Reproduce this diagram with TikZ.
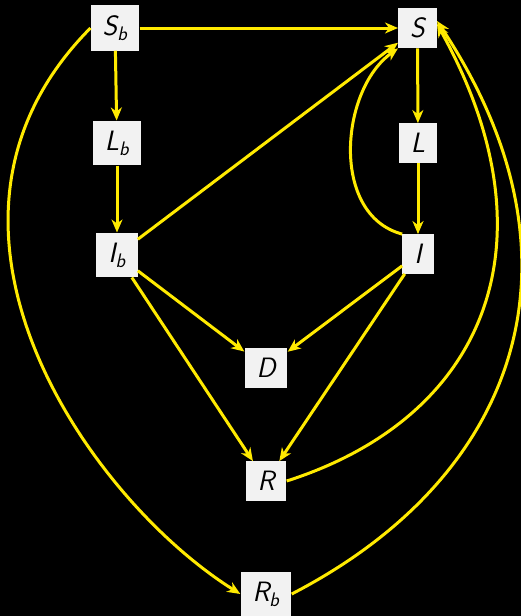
\documentclass[tikz,border=0pt]{standalone}
\usepackage{fontspec}
\usetikzlibrary{arrows.meta}
\definecolor{arr}{RGB}{255,234,0}
\definecolor{boxfill}{RGB}{242,242,242}
\newcommand{\vv}[2]{#1\textsubscript{#2}}
\begin{document}
\begin{tikzpicture}[x=1pt,y=-1pt,
  state/.style={fill=boxfill,draw=none,inner xsep=12pt,inner ysep=10pt,
    font=\fontsize{28}{32}\selectfont\sffamily\itshape},
  link/.style={draw=arr,line width=3pt,-{Stealth[length=13pt,width=11pt,inset=4pt]}}]
\fill[black] (0,0) rectangle (521,616);
\useasboundingbox (0,0) rectangle (521,616);
\node[state] (Sb) at (115,28) {\vv{S}{b}};
\node[state] (S) at (417.5,28) {S};
\node[state] (Lb) at (117,143) {\vv{L}{b}};
\node[state] (L) at (418,143) {L};
\node[state] (Ib) at (117,255) {\vv{I}{b}};
\node[state] (I) at (418,254) {I};
\node[state] (D) at (266,368) {D};
\node[state] (R) at (266,481) {R};
\node[state] (Rb) at (266,594) {\vv{R}{b}};
\draw[link] (Sb) -- (S);
\draw[link] (Sb) -- (Lb);
\draw[link] (Lb) -- (Ib);
\draw[link] (S) -- (L);
\draw[link] (L) -- (I);
\draw[link] (Ib) -- (S);
\draw[link] (Ib) -- (D);
\draw[link] (I) -- (D);
\draw[link] (Ib) -- (R);
\draw[link] (I) -- (R);
\draw[link] (I.north west) .. controls (330,215) and (340,90) .. (S.south west);
\draw[link] (R.east) .. controls (487,417) and (557.6,240.8) .. ([yshift=4pt]S.east);
\draw[link] (Rb.east) .. controls (522,475) and (593.6,256.4) .. ([yshift=7pt]S.east);
\draw[link] (Sb.west) .. controls (-105,225) and (90,500) .. (Rb.west);
\end{tikzpicture}
\end{document}
